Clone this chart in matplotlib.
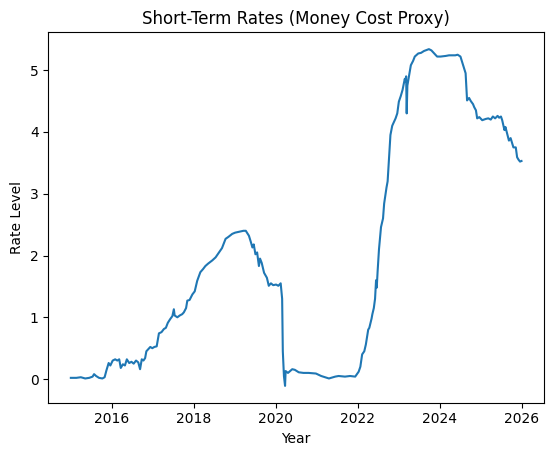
import matplotlib
matplotlib.use('Agg')
import matplotlib.pyplot as plt
import pandas as pd

# fechas y niveles
fechas = [
    "2015-01-02", "2015-02-20", "2015-04-01", "2015-05-10", "2015-06-15", "2015-07-15",
    "2015-07-28", "2015-08-15", "2015-09-10", "2015-10-10", "2015-10-30", "2015-11-15",
    "2015-12-05", "2015-12-20", "2016-01-10", "2016-02-01", "2016-02-20", "2016-03-08",
    "2016-03-22", "2016-04-10", "2016-04-28", "2016-05-15", "2016-06-05", "2016-06-25",
    "2016-07-15", "2016-08-05", "2016-08-25", "2016-09-10", "2016-09-25", "2016-10-10",
    "2016-10-25", "2016-11-05", "2016-11-20", "2016-12-10", "2016-12-28", "2017-01-15",
    "2017-02-05", "2017-02-25", "2017-03-20", "2017-04-10", "2017-04-28", "2017-05-15",
    "2017-06-05", "2017-06-25", "2017-07-08", "2017-07-15", "2017-08-08", "2017-08-30",
    "2017-09-20", "2017-10-05", "2017-10-25", "2017-11-05", "2017-11-25", "2017-12-20",
    "2018-01-10", "2018-02-01", "2018-03-01", "2018-03-25", "2018-04-15", "2018-05-10",
    "2018-06-15", "2018-07-15", "2018-08-15", "2018-09-10", "2018-10-12", "2018-11-05",
    "2018-12-10", "2019-01-05", "2019-02-25", "2019-03-20", "2019-04-10", "2019-05-08",
    "2019-05-25", "2019-06-08", "2019-06-20", "2019-07-05", "2019-07-20", "2019-08-05",
    "2019-08-15", "2019-08-30", "2019-09-20", "2019-10-15", "2019-11-01", "2019-11-20",
    "2019-12-10", "2020-01-05", "2020-01-25", "2020-02-15", "2020-02-28", "2020-03-05",
    "2020-03-15", "2020-03-25", "2020-03-30", "2020-04-20", "2020-05-28", "2020-06-20",
    "2020-07-25", "2020-09-05", "2020-10-20", "2020-12-25", "2021-02-10", "2021-04-20",
    "2021-06-15", "2021-07-15", "2021-09-10", "2021-10-25", "2021-12-10", "2022-01-10",
    "2022-01-25", "2022-02-10", "2022-03-01", "2022-03-15", "2022-04-05", "2022-04-15",
    "2022-05-05", "2022-05-12", "2022-05-25", "2022-06-05", "2022-06-14", "2022-06-20",
    "2022-06-28", "2022-07-10", "2022-07-20", "2022-07-28", "2022-08-15", "2022-08-25",
    "2022-09-15", "2022-09-25", "2022-10-05", "2022-10-20", "2022-11-05", "2022-12-05",
    "2022-12-20", "2023-01-03", "2023-01-20", "2023-02-05", "2023-02-25", "2023-03-03",
    "2023-03-09", "2023-03-14", "2023-03-20", "2023-04-05", "2023-04-20", "2023-05-10",
    "2023-05-25", "2023-06-25", "2023-07-20", "2023-08-15", "2023-09-28", "2023-10-20",
    "2023-11-15", "2023-12-10", "2024-01-10", "2024-02-25", "2024-03-25", "2024-05-20",
    "2024-06-10", "2024-07-05", "2024-07-25", "2024-08-05", "2024-08-20", "2024-09-02",
    "2024-09-20", "2024-10-05", "2024-10-25", "2024-11-05", "2024-11-20", "2024-12-01",
    "2024-12-20", "2025-01-15", "2025-02-15", "2025-03-10", "2025-04-01", "2025-04-20",
    "2025-05-10", "2025-06-01", "2025-06-15", "2025-07-01", "2025-07-12", "2025-08-01",
    "2025-08-10", "2025-09-10", "2025-09-25", "2025-10-20", "2025-11-10", "2025-11-22",
    "2025-12-05", "2025-12-18", "2025-12-31",
]

tasas = [
    0.02, 0.02, 0.03, 0.01, 0.02, 0.04,
    0.08, 0.05, 0.02, 0.01, 0.03, 0.14,
    0.26, 0.22, 0.30, 0.32, 0.30, 0.32,
    0.18, 0.24, 0.22, 0.32, 0.26, 0.28,
    0.25, 0.30, 0.27, 0.16, 0.32, 0.30,
    0.34, 0.45, 0.48, 0.52, 0.50, 0.52,
    0.53, 0.74, 0.76, 0.81, 0.83, 0.91,
    0.97, 1.02, 1.13, 1.03, 1.00, 1.03,
    1.05, 1.08, 1.15, 1.27, 1.28, 1.37,
    1.42, 1.59, 1.73, 1.78, 1.83, 1.87,
    1.92, 1.97, 2.05, 2.12, 2.27, 2.30,
    2.35, 2.37, 2.39, 2.40, 2.40, 2.32,
    2.22, 2.13, 2.18, 2.02, 2.05, 1.83,
    1.95, 1.88, 1.72, 1.64, 1.51, 1.55,
    1.52, 1.53, 1.51, 1.55, 1.30, 0.45,
    0.05, -0.11, 0.13, 0.10, 0.16, 0.15,
    0.11, 0.10, 0.10, 0.09, 0.05, 0.01,
    0.04, 0.05, 0.04, 0.05, 0.04, 0.12,
    0.20, 0.40, 0.45, 0.56, 0.80, 0.83,
    0.98, 1.05, 1.15, 1.30, 1.60, 1.48,
    1.75, 2.10, 2.30, 2.46, 2.60, 2.84,
    3.10, 3.20, 3.50, 3.95, 4.10, 4.22,
    4.30, 4.49, 4.58, 4.68, 4.86, 4.82,
    4.90, 4.30, 4.75, 4.92, 5.08, 5.15,
    5.22, 5.27, 5.28, 5.31, 5.34, 5.32,
    5.27, 5.22, 5.22, 5.23, 5.24, 5.24,
    5.25, 5.22, 5.10, 5.03, 4.95, 4.51,
    4.55, 4.50, 4.45, 4.40, 4.35, 4.22,
    4.24, 4.19, 4.21, 4.22, 4.20, 4.25,
    4.22, 4.26, 4.23, 4.25, 4.19, 4.03,
    4.08, 3.86, 3.90, 3.75, 3.75, 3.59,
    3.55, 3.52, 3.53,
]

fechas = pd.to_datetime(fechas)

fig = plt.figure(figsize=(5.54, 4.55), dpi=100)
ax = fig.add_axes([0.0872, 0.1149, 0.8948, 0.8141])

ax.plot(fechas, tasas, color='#1f77b4', linewidth=1.5)

ax.set_title('Short-Term Rates (Money Cost Proxy)')
ax.set_xlabel('Year')
ax.set_ylabel('Rate Level')

fig.savefig('out.png', dpi=100)
